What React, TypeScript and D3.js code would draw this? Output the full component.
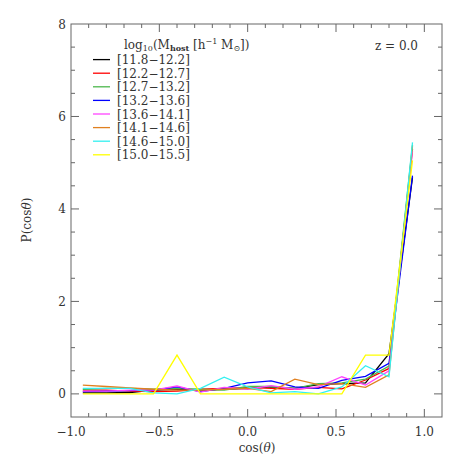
import React from "react";
import * as d3 from "d3";

const W = 463;
const H = 463;

const binCenters = [-0.933, -0.8, -0.667, -0.533, -0.4, -0.267, -0.133, 0, 0.133, 0.267, 0.4, 0.533, 0.667, 0.8, 0.933];

const seriesLabels = ["11.8\u221212.2", "12.2\u221212.7", "12.7\u221213.2", "13.2\u221213.6", "13.6\u221214.1", "14.1\u221214.6", "14.6\u221215.0", "15.0\u221215.5"];
const seriesColors = ["#000000", "#ff0000", "#4cb84c", "#0000ff", "#ff44ff", "#e08020", "#33f0f0", "#ffff00"];

const m118 = [0.02, 0.02, 0.03, 0.08, 0.1, 0.08, 0.1, 0.12, 0.15, 0.12, 0.2, 0.22, 0.24, 0.87, 4.68];
const m122 = [0.08, 0.08, 0.06, 0.05, 0.06, 0.1, 0.12, 0.14, 0.12, 0.1, 0.14, 0.11, 0.3, 0.55, 5.3];
const m127 = [0.1, 0.12, 0.12, 0.1, 0.12, 0.1, 0.08, 0.16, 0.16, 0.12, 0.22, 0.24, 0.32, 0.6, 5.38];
const m132 = [0.05, 0.06, 0.07, 0.08, 0.15, 0.05, 0.12, 0.24, 0.28, 0.15, 0.12, 0.29, 0.38, 0.66, 4.72];
const m136 = [0.06, 0.06, 0.08, 0.08, 0.17, 0.04, 0.14, 0.1, 0.18, 0.1, 0.15, 0.37, 0.19, 0.5, 5.25];
const m141 = [0.19, 0.16, 0.13, 0.1, 0.08, 0.08, 0.1, 0.12, 0.05, 0.32, 0.2, 0.22, 0.14, 0.41, 5.35];
const m146 = [0.12, 0.12, 0.12, 0.02, 0.0, 0.12, 0.36, 0.15, 0.02, 0.05, 0.0, 0.15, 0.61, 0.37, 5.44];
const m150 = [0, 0, 0, 0, 0.84, 0, 0, 0, 0, 0, 0, 0, 0.84, 0.84, 5.05];

const seriesValues = [m118, m122, m127, m132, m136, m141, m146, m150];

const xTicks = [-1.0, -0.5, 0.0, 0.5, 1.0];
const yTicks = [0, 2, 4, 6, 8];

export default function App() {
  const left = 71, right = 442, top = 24, bottom = 417;
  const x = d3.scaleLinear().domain([-1, 1.1]).range([left, right]);
  const y = d3.scaleLinear().domain([-0.5, 8]).range([bottom, top]);
  const line = d3.line<number>().x((_, i) => x(binCenters[i])).y((v) => y(v));

  const axisColor = "#666";
  const textColor = "#333";
  const font = "'DejaVu Serif', 'Liberation Serif', serif";

  const xMinor = d3.range(-1.0, 1.1001, 0.1).map((v) => Math.round(v * 10) / 10);
  const yMinor = d3.range(-0.5, 8.001, 0.5);

  const ticks: React.ReactNode[] = [];
  xMinor.forEach((v, i) => {
    const major = Math.abs(v * 2 - Math.round(v * 2)) < 1e-6;
    const len = major ? 8 : 4;
    const px = x(v);
    if (px <= left + 0.5 || px >= right - 0.5) return;
    ticks.push(<line key={"xb" + i} x1={px} x2={px} y1={bottom} y2={bottom - len} stroke={axisColor} strokeWidth={1} />);
    ticks.push(<line key={"xt" + i} x1={px} x2={px} y1={top} y2={top + len} stroke={axisColor} strokeWidth={1} />);
  });
  yMinor.forEach((v, i) => {
    const major = Math.abs(v / 2 - Math.round(v / 2)) < 1e-6;
    const len = major ? 8 : 4;
    const py = y(v);
    if (py >= bottom - 0.5 || py <= top + 0.5) return;
    ticks.push(<line key={"yl" + i} x1={left} x2={left + len} y1={py} y2={py} stroke={axisColor} strokeWidth={1} />);
    ticks.push(<line key={"yr" + i} x1={right} x2={right - len} y1={py} y2={py} stroke={axisColor} strokeWidth={1} />);
  });

  const legX1 = 93, legX2 = 110, legY0 = 59.6, legDy = 13.6;

  return (
    <svg width={W} height={H} style={{ position: "absolute", left: 0, top: 0, background: "#fff" }} fontFamily={font}>
      <rect x={0} y={0} width={W} height={H} fill="#fff" />
      {seriesValues.map((vals, i) => (
        <path key={"s" + i} d={line(vals) || ""} fill="none" stroke={seriesColors[i]} strokeWidth={1.3} strokeLinejoin="miter" />
      ))}
      <rect x={left} y={top} width={right - left} height={bottom - top} fill="none" stroke={axisColor} strokeWidth={1} />
      {ticks}
      {xTicks.map((v, i) => (
        <text key={"xl" + i} x={x(v)} y={436} textAnchor="middle" fontSize={12} fill={textColor}>
          {v < 0 ? "\u2212" + Math.abs(v).toFixed(1) : v.toFixed(1)}
        </text>
      ))}
      {yTicks.map((v, i) => (
        <text key={"yl" + i} x={66} y={y(v) + 4.5} textAnchor="end" fontSize={12} fill={textColor}>
          {v}
        </text>
      ))}
      <text x={257} y={452} textAnchor="middle" fontSize={12} fill={textColor}>
        cos(<tspan fontStyle="italic">θ</tspan>)
      </text>
      <text transform={`translate(31,220) rotate(-90)`} textAnchor="middle" fontSize={12} fill={textColor}>
        P(cos<tspan fontStyle="italic">θ</tspan>)
      </text>
      <text x={124} y={49} fontSize={12} fill={textColor}>
        log<tspan fontSize={8} dy={2}>10</tspan>
        <tspan dy={-2}>(M</tspan>
        <tspan fontSize={8} dy={2} fontWeight="bold">host</tspan>
        <tspan dy={-2}> [h</tspan>
        <tspan fontSize={8} dy={-5}>{"\u22121"}</tspan>
        <tspan dy={5}> M</tspan>
        <tspan fontSize={8} dy={2}>⊙</tspan>
        <tspan dy={-2}>])</tspan>
      </text>
      <text x={418} y={50} textAnchor="end" fontSize={12} fill={textColor}>
        z = 0.0
      </text>
      {seriesLabels.map((lab, i) => {
        const ly = legY0 + i * legDy;
        return (
          <g key={"lg" + i}>
            <line x1={legX1} x2={legX2} y1={ly} y2={ly} stroke={seriesColors[i]} strokeWidth={1.3} />
            <text x={117} y={ly + 4.5} fontSize={12} fill={textColor}>
              [{lab}]
            </text>
          </g>
        );
      })}
    </svg>
  );
}
